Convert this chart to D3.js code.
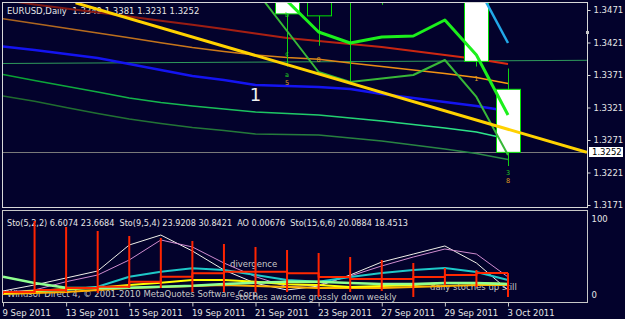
<!DOCTYPE html>
<html>
<head>
<meta charset="UTF-8">
<title>EURUSD,Daily</title>
<script src="https://cdnjs.cloudflare.com/ajax/libs/d3/7.8.5/d3.min.js"></script>
<style>
html, body { margin: 0; padding: 0; background: #03022c; }
svg { display: block; }
text { font-family: "DejaVu Sans", sans-serif; font-size: 8.5px; fill: #e6e6e6; white-space: pre; }
</style>
</head>
<body>
<script>
// ---- bars (9 Sep .. 3 Oct 2011) ----
var dates = ["9 Sep 2011", "12 Sep 2011", "13 Sep 2011", "14 Sep 2011", "15 Sep 2011", "16 Sep 2011",
             "19 Sep 2011", "20 Sep 2011", "21 Sep 2011", "22 Sep 2011", "23 Sep 2011", "26 Sep 2011",
             "27 Sep 2011", "28 Sep 2011", "29 Sep 2011", "30 Sep 2011", "3 Oct 2011"];
var dateTicks = [0, 2, 4, 6, 8, 10, 12, 14, 16];

var open  = [1.3870, 1.3600, 1.3680, 1.3690, 1.3750, 1.3870, 1.3740, 1.3680, 1.3710, 1.3610, 1.3462, 1.3500, 1.3490, 1.3590, 1.3550, 1.3600, 1.3349];
var high  = [1.3890, 1.3700, 1.3770, 1.3770, 1.3890, 1.3900, 1.3750, 1.3770, 1.3775, 1.3620, 1.3545, 1.3545, 1.3620, 1.3660, 1.3660, 1.3620, 1.3381];
var low   = [1.3640, 1.3495, 1.3590, 1.3570, 1.3710, 1.3780, 1.3600, 1.3650, 1.3600, 1.3384, 1.3416, 1.3359, 1.3479, 1.3530, 1.3540, 1.3384, 1.3231];
var close = [1.3650, 1.3680, 1.3690, 1.3750, 1.3870, 1.3790, 1.3680, 1.3710, 1.3610, 1.3465, 1.3500, 1.3490, 1.3590, 1.3550, 1.3600, 1.3392, 1.3252];

// ---- moving averages on price ----
var maBlue   = [1.34149, 1.34095, 1.34033, 1.33972, 1.33879, 1.33787, 1.33695, 1.33633, 1.33556, 1.33541, 1.33525, 1.33495, 1.33418, 1.33356, 1.33295, 1.33233, 1.33156];
var maRed    = [1.34864, 1.34795, 1.34733, 1.34670, 1.34609, 1.34545, 1.34482, 1.34418, 1.34349, 1.34279, 1.34233, 1.34187, 1.34141, 1.34079, 1.34018, 1.33956, 1.33879];
var maOrange = [1.34575, 1.34502, 1.34430, 1.34356, 1.34282, 1.34207, 1.34132, 1.34072, 1.34018, 1.33979, 1.33952, 1.33895, 1.33841, 1.33787, 1.33733, 1.33672, 1.33579];
var maGreen  = [1.33718, 1.33627, 1.33538, 1.33448, 1.33356, 1.33287, 1.33233, 1.33187, 1.33141, 1.33118, 1.33095, 1.33048, 1.33002, 1.32948, 1.32895, 1.32833, 1.32725];
var maDkGreen = [1.33387, 1.33305, 1.33210, 1.33118, 1.33033, 1.32964, 1.32902, 1.32856, 1.32802, 1.32795, 1.32787, 1.32741, 1.32695, 1.32633, 1.32572, 1.32502, 1.32410];

// short series that only exist on the last bars
var zigThickStart = 9;
var zigThick = [1.34849, 1.34372, 1.34202, 1.34295, 1.34310, 1.34556, 1.34018, 1.33095];
var zigThinStart = 8;
var zigThin = [1.35018, 1.34387, 1.33756, 1.33602, 1.33656, 1.33710, 1.33941, 1.33372, 1.32479];
var cyanStart = 15;
var cyanLine = [1.35110, 1.34202];

// weekly line and trendline as [bar, price]
var weeklyLine = [[-0.05, 1.33887], [18.5, 1.33936]];
var trendLine = [[2.3, 1.3482], [18.5, 1.3252]];

var priceTicks = [1.3471, 1.3421, 1.3371, 1.3321, 1.3271, 1.3221, 1.3171];
var lastPrice = 1.3252;

// wave labels [bar, price, text, colour]
var waveLabels = [
  [9, 1.34633, "b", "#20d020"], [9, 1.34033, "c", "#20d020"],
  [10, 1.33941, "8", "#e0a020"], [9, 1.33710, "a", "#20d020"],
  [9, 1.33590, "5", "#e0a020"], [15, 1.33648, "1", "#e0a020"],
  [16, 1.32200, "3", "#20d020"], [16, 1.32085, "8", "#e0a020"]
];

// ---- oscillator window ----
var stoWhite = [5.3, 13.2, 22.4, 31.6, 65.8, 78.9, 57.9, 32.9, 15.4, 6.6, 11.8, 26.3, 43.4, 53.9, 64.5, 42.1, 6.6];
var stoPink  = [3.9, 6.6, 17.5, 26.3, 46.1, 72.4, 63.2, 42.1, 24.1, 10.9, 13.2, 25.0, 38.2, 50.0, 60.5, 53.9, 23.7];
var stoTeal  = [1.3, 3.9, 6.6, 10.9, 24.1, 30.7, 35.1, 32.9, 26.3, 19.7, 17.5, 23.7, 28.9, 32.9, 35.5, 30.3, 19.7];
var stoRed   = [1.3, 3.9, 6.6, 9.2, 10.9, 17.5, 24.1, 28.6, 30.7, 30.7, 28.6, 23.7, 21.1, 21.1, 23.7, 26.3, 28.9];
var stoYellow = [2.6, 5.3, 7.9, 9.6, 13.2, 16.2, 19.7, 19.7, 17.5, 14.1, 13.2, 10.5, 11.8, 13.2, 15.8, 15.8, 14.5];
var stoGold  = [1.3, 2.6, 3.9, 6.6, 9.2, 10.5, 11.8, 13.2, 11.8, 10.5, 9.2, 9.2, 9.2, 10.5, 11.8, 13.2, 13.2];
var stoLtGreen = [24.1, 15.8, 9.6, 9.2, 9.6, 10.9, 12.2, 14.5, 16.2, 17.5, 17.5, 15.8, 14.5, 14.5, 15.8, 15.8, 14.5];
var histTop = [null, 97.4, 89.5, 84.2, 77.6, 75.0, 71.1, 67.1, 63.2, 59.2, 55.3, 50.0, 46.1, 42.1, 35.5, 32.9, 28.9];
var histBot = [null, 2.6, 3.9, 2.6, 9.2, 9.2, 3.9, 3.9, 3.9, 3.9, -2.6, 3.9, 5.3, -2.6, 13.2, 10.5, -2.6];

var W = 625, H = 319;
var svg = d3.select("body").append("svg").attr("width", W).attr("height", H);
svg.append("rect").attr("width", W).attr("height", H).attr("fill", "#03022c");

var x = d3.scaleLinear().domain([0, 16]).range([3, 508]);
var y = d3.scaleLinear().domain([1.3171, 1.3471]).range([205, 10]);
var ys = d3.scaleLinear().domain([0, 100]).range([295, 219]);

var defs = svg.append("defs");
defs.append("clipPath").attr("id", "clipMain").append("rect")
    .attr("x", 3).attr("y", 3).attr("width", 584).attr("height", 204);
defs.append("clipPath").attr("id", "clipSub").append("rect")
    .attr("x", 3).attr("y", 211).attr("width", 584).attr("height", 91);

function grad(id, c0, c1) {
  var g = defs.append("linearGradient").attr("id", id)
      .attr("gradientUnits", "userSpaceOnUse")
      .attr("x1", 0).attr("y1", 0).attr("x2", 510).attr("y2", 0);
  g.append("stop").attr("offset", 0).attr("stop-color", c0);
  g.append("stop").attr("offset", 1).attr("stop-color", c1);
}
grad("gRed", "#701414", "#e02a10");
grad("gOrange", "#a86220", "#ff9a10");
grad("gGreen", "#08a030", "#30e890");
grad("gDkGreen", "#1e6a2c", "#2a8a48");

var line = d3.line().x(function(d) { return x(d[0]); }).y(function(d) { return y(d[1]); });
function pts(arr, start) { return arr.map(function(v, i) { return [i + (start || 0), v]; }); }

// ---- main window ----
var main = svg.append("g").attr("clip-path", "url(#clipMain)");

main.append("text").attr("x", 7).attr("y", 14)
    .text("EURUSD,Daily  1.3349 1.3381 1.3231 1.3252");

main.append("line")
    .attr("x1", 3).attr("x2", 587)
    .attr("y1", Math.round(y(lastPrice)) + 0.5).attr("y2", Math.round(y(lastPrice)) + 0.5)
    .attr("stroke", "#7a7a7a").attr("stroke-width", 1);

function addLine(g, data, color, width) {
  return g.append("path").attr("d", line(data)).attr("fill", "none")
      .attr("stroke", color).attr("stroke-width", width).attr("stroke-linejoin", "round");
}

addLine(main, pts(maDkGreen), "url(#gDkGreen)", 1.5);
addLine(main, pts(maGreen), "url(#gGreen)", 1.5);
addLine(main, weeklyLine, "#2f9a5c", 1);
addLine(main, pts(maRed), "url(#gRed)", 2);
addLine(main, pts(maOrange), "url(#gOrange)", 1.5);
addLine(main, pts(maBlue), "#1414f0", 2.5);

// candles
var bw = 12;
var candles = main.append("g").selectAll("g").data(d3.range(dates.length)).enter().append("g");
candles.append("line")
    .attr("x1", function(i) { return Math.round(x(i)) + 0.5; })
    .attr("x2", function(i) { return Math.round(x(i)) + 0.5; })
    .attr("y1", function(i) { return y(high[i]); })
    .attr("y2", function(i) { return y(low[i]); })
    .attr("stroke", "#10d010").attr("stroke-width", 1);
candles.append("rect")
    .attr("x", function(i) { return Math.round(x(i)) - bw + 0.5; })
    .attr("width", bw * 2)
    .attr("y", function(i) { return y(Math.max(open[i], close[i])); })
    .attr("height", function(i) { return Math.max(1, Math.abs(y(open[i]) - y(close[i]))); })
    .attr("fill", function(i) { return close[i] < open[i] ? "#ffffff" : "#03022c"; })
    .attr("stroke", "#00e000").attr("stroke-width", 1);

addLine(main, pts(zigThin, zigThinStart), "#38b838", 2);
addLine(main, pts(zigThick, zigThickStart), "#1cf01c", 3);
addLine(main, pts(cyanLine, cyanStart), "#22a8e8", 2.5);
addLine(main, trendLine, "#ffd200", 3);

main.selectAll(".wave").data(waveLabels).enter().append("text")
    .attr("class", "wave")
    .attr("x", function(d) { return x(d[0]); })
    .attr("y", function(d) { return y(d[1]); })
    .attr("dy", "0.35em")
    .attr("text-anchor", "middle")
    .style("font-size", "6.5px")
    .style("fill", function(d) { return d[3]; })
    .text(function(d) { return d[2]; });

main.append("text").attr("x", x(8)).attr("y", y(1.33417)).attr("dy", "0.36em")
    .attr("text-anchor", "middle").style("font-size", "18px").style("fill", "#f0f0f0")
    .text("1");

// frame + price axis
svg.append("rect").attr("x", 2.5).attr("y", 2.5).attr("width", 585).attr("height", 205)
    .attr("fill", "none").attr("stroke", "#d8d8d8");

var yAxis = svg.append("g").attr("transform", "translate(587.5,0)")
    .call(d3.axisRight(y).tickValues(priceTicks).tickSize(3).tickPadding(3).tickFormat(d3.format(".4f")));
yAxis.select(".domain").remove();
yAxis.selectAll("line").attr("stroke", "#d8d8d8");
yAxis.selectAll("text").attr("fill", "#e6e6e6").attr("font-family", null).attr("font-size", null);

svg.append("rect").attr("x", 586).attr("y", 31).attr("width", 3).attr("height", 3).attr("fill", "#c8c8c8");

var lp = Math.round(y(lastPrice));
svg.append("rect").attr("x", 589).attr("y", lp - 5).attr("width", 34).attr("height", 10).attr("fill", "#ffffff");
svg.append("text").attr("x", 592).attr("y", lp).attr("dy", "0.35em").style("fill", "#000000").text("1.3252");

// ---- oscillator window ----
var sub = svg.append("g").attr("clip-path", "url(#clipSub)");
var sline = d3.line().x(function(d) { return x(d[0]); }).y(function(d) { return ys(d[1]); });

sub.append("text").attr("x", 7).attr("y", 226)
    .attr("textLength", 401).attr("lengthAdjust", "spacingAndGlyphs")
    .text("Sto(5,2,2) 6.6074 23.6684  Sto(9,5,4) 23.9208 30.8421  AO 0.00676  Sto(15,6,6) 20.0884 18.4513");
sub.append("text").attr("x", 230).attr("y", 267).style("fill", "#c8c8c8").text("divergence");
sub.append("text").attr("x", 7).attr("y", 297).style("fill", "#c8c8c8")
    .text("Windsor Direct 4, \u00a9 2001-2010 MetaQuotes Software Corp.");
sub.append("text").attr("x", 235).attr("y", 300).style("fill", "#c8c8c8")
    .text("stoches awsome grossly down weekly");
sub.append("text").attr("x", 430).attr("y", 290).style("fill", "#c8c8c8")
    .text("daily stoches up still");

function addSub(data, color, width, curve) {
  return sub.append("path").attr("d", sline.curve(curve || d3.curveLinear)(pts(data)))
      .attr("fill", "none").attr("stroke", color).attr("stroke-width", width)
      .attr("stroke-linejoin", "round");
}
addSub(stoWhite, "#f0f0e8", 1);
addSub(stoPink, "#d08cd0", 1);
addSub(stoTeal, "#1ec8c8", 2);
addSub(stoGold, "#ffb000", 2);
addSub(stoYellow, "#ffff00", 2);
addSub(stoLtGreen, "#90ff90", 2.5);
addSub(stoRed, "#ff2800", 2, d3.curveStepBefore);

sub.selectAll(".hist").data(d3.range(1, dates.length)).enter().append("line")
    .attr("class", "hist")
    .attr("x1", function(i) { return x(i); }).attr("x2", function(i) { return x(i); })
    .attr("y1", function(i) { return ys(histTop[i]); })
    .attr("y2", function(i) { return ys(histBot[i]); })
    .attr("stroke", "#ff2400").attr("stroke-width", 2);

svg.append("rect").attr("x", 2.5).attr("y", 210.5).attr("width", 585).attr("height", 92)
    .attr("fill", "none").attr("stroke", "#c8c8c8");

var sAxis = svg.append("g").attr("transform", "translate(587.5,0)")
    .call(d3.axisRight(ys).tickValues([0, 100]).tickSize(0).tickPadding(4));
sAxis.select(".domain").remove();
sAxis.selectAll("text").attr("fill", "#e6e6e6").attr("font-family", null).attr("font-size", null);

// ---- date axis ----
var xAxis = svg.append("g").attr("transform", "translate(0,302.5)")
    .call(d3.axisBottom(x).tickValues(dateTicks).tickSize(4).tickPadding(3)
      .tickFormat(function(i) { return dates[i]; }));
xAxis.select(".domain").remove();
xAxis.selectAll("line").attr("stroke", "#c8c8c8");
xAxis.selectAll("text").attr("fill", "#e6e6e6").attr("text-anchor", "start").attr("x", -1)
    .attr("font-family", null).attr("font-size", null);
</script>
</body>
</html>
